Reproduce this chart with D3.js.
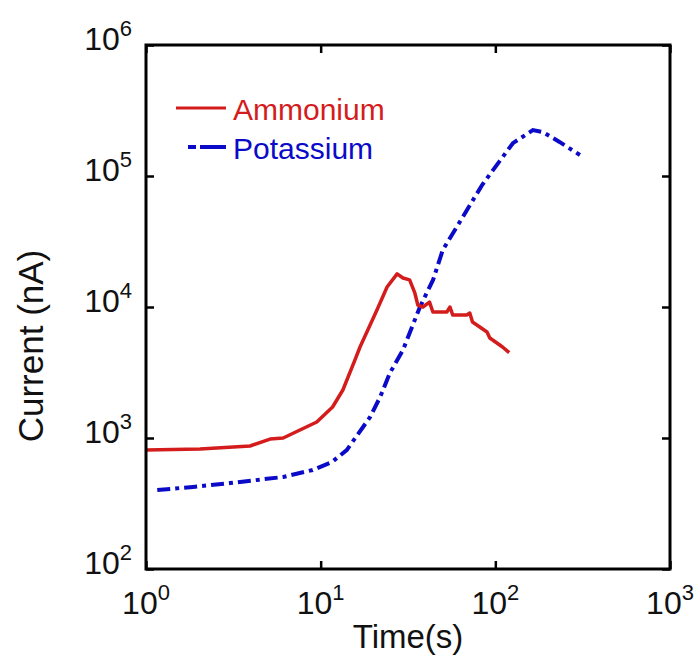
<!DOCTYPE html>
<html>
<head>
<meta charset="utf-8">
<script src="https://cdn.jsdelivr.net/npm/d3@7/dist/d3.min.js"></script>
<style>
    body { margin: 0; background: #fff; }
    text { font-family: Arial, "Liberation Sans", sans-serif; }
</style>
</head>
<body>
<div id="chart"></div>
<script>
// Datos
const ammoniumTime = [1.0, 2.04, 3.94, 5.13, 6.1, 9.5, 11.7, 13.4, 15.7, 16.8, 21, 24, 27.4, 29.6, 32.3, 34.6, 36, 38.5, 42, 43.9, 52.8, 55, 57, 68.6, 71.4, 74, 89.6, 93, 110, 120];
const ammoniumCurrent = [809, 824, 869, 982, 1000, 1324, 1725, 2324, 3935, 4950, 9480, 14200, 17900, 16650, 16100, 12800, 10350, 10000, 10900, 9160, 9160, 10000, 8700, 8700, 9000, 7680, 6440, 5800, 4950, 4480];

const potassiumTime = [1.16, 1.86, 3.03, 6.1, 9.0, 11.6, 14.1, 19.2, 21.9, 24.9, 29.6, 37, 44, 50, 64.5, 84, 97, 126, 164, 188, 233, 305];
const potassiumCurrent = [401, 423, 453, 504, 570, 656, 809, 1446, 2055, 3130, 4700, 10000, 16100, 27200, 47700, 85300, 111000, 178000, 224000, 216000, 182000, 144600];

const xTicks = [1, 10, 100, 1000];
const yTicks = [100, 1000, 10000, 100000, 1000000];
const seriesNames = ['Ammonium', 'Potassium'];

document.addEventListener('DOMContentLoaded', function() {
    const width = 700;
    const height = 662;
    const margin = {top: 45, right: 30, bottom: 93, left: 146};
    const innerW = width - margin.left - margin.right;
    const innerH = height - margin.top - margin.bottom;

    const red = '#d41c1c';
    const blue = '#0a0ac8';

    const svg = d3.select('#chart')
        .append('svg')
        .attr('width', width)
        .attr('height', height);

    const g = svg.append('g')
        .attr('transform', `translate(${margin.left},${margin.top})`);

    const x = d3.scaleLog().domain([1, 1000]).range([0, innerW]);
    const y = d3.scaleLog().domain([100, 1000000]).range([innerH, 0]);

    // Ticks hacia adentro en los cuatro lados
    const tickLen = 8;
    function addTicks(axis, transform) {
        const a = g.append('g')
            .attr('transform', transform)
            .call(axis);
        a.select('.domain').remove();
        a.selectAll('.tick line').attr('stroke', '#000').attr('stroke-width', 2.5);
        a.selectAll('.tick text').remove();
        return a;
    }
    addTicks(d3.axisBottom(x).tickValues(xTicks).tickSize(-tickLen), `translate(0,${innerH})`);
    addTicks(d3.axisTop(x).tickValues(xTicks).tickSize(-tickLen), 'translate(0,0)');
    addTicks(d3.axisLeft(y).tickValues(yTicks).tickSize(-tickLen), 'translate(0,0)');
    addTicks(d3.axisRight(y).tickValues(yTicks).tickSize(-tickLen), `translate(${innerW},0)`);

    // Etiquetas de potencia de diez
    function powerLabel(sel, exp) {
        sel.append('tspan').text('10');
        sel.append('tspan')
            .attr('dy', -14)
            .attr('font-size', 22)
            .text(exp);
    }

    xTicks.forEach(v => {
        const t = g.append('text')
            .attr('x', x(v))
            .attr('y', innerH + 45)
            .attr('text-anchor', 'middle')
            .attr('font-size', 32)
            .attr('fill', '#111');
        powerLabel(t, Math.round(Math.log10(v)));
    });

    yTicks.forEach(v => {
        const t = g.append('text')
            .attr('x', -14)
            .attr('y', y(v) + 5)
            .attr('text-anchor', 'end')
            .attr('font-size', 32)
            .attr('fill', '#111');
        powerLabel(t, Math.round(Math.log10(v)));
    });

    // Lineas de datos
    const line = d3.line()
        .x(d => x(d[0]))
        .y(d => y(d[1]));

    const ammonium = ammoniumTime.map((t, i) => [t, ammoniumCurrent[i]]);
    const potassium = potassiumTime.map((t, i) => [t, potassiumCurrent[i]]);

    g.append('path')
        .datum(potassium)
        .attr('fill', 'none')
        .attr('stroke', blue)
        .attr('stroke-width', 4)
        .attr('stroke-dasharray', '13,5,4,5')
        .attr('d', line);

    g.append('path')
        .datum(ammonium)
        .attr('fill', 'none')
        .attr('stroke', red)
        .attr('stroke-width', 3.5)
        .attr('stroke-linejoin', 'round')
        .attr('d', line);

    // Marco del grafico
    g.append('rect')
        .attr('x', 0)
        .attr('y', 0)
        .attr('width', innerW)
        .attr('height', innerH)
        .attr('fill', 'none')
        .attr('stroke', '#000')
        .attr('stroke-width', 3);

    // Leyenda
    const legend = [
        {name: seriesNames[0], color: red, x1: 176, dash: null, w: 3, y: 108},
        {name: seriesNames[1], color: blue, x1: 188, dash: '8,4,26,0', w: 4, y: 147}
    ];
    legend.forEach(l => {
        svg.append('line')
            .attr('x1', l.x1)
            .attr('x2', 226)
            .attr('y1', l.y)
            .attr('y2', l.y)
            .attr('stroke', l.color)
            .attr('stroke-width', l.w)
            .attr('stroke-dasharray', l.dash);
        svg.append('text')
            .attr('x', 233)
            .attr('y', l.y + 12)
            .attr('font-size', 30)
            .attr('fill', l.color)
            .text(l.name);
    });

    // Titulos de los ejes
    svg.append('text')
        .attr('x', margin.left + innerW / 2)
        .attr('y', 648)
        .attr('text-anchor', 'middle')
        .attr('font-size', 33)
        .attr('fill', '#111')
        .text('Time(s)');

    svg.append('text')
        .attr('transform', 'translate(43,346) rotate(-90)')
        .attr('text-anchor', 'middle')
        .attr('font-size', 35)
        .attr('fill', '#111')
        .text('Current (nA)');
});
</script>
</body>
</html>
